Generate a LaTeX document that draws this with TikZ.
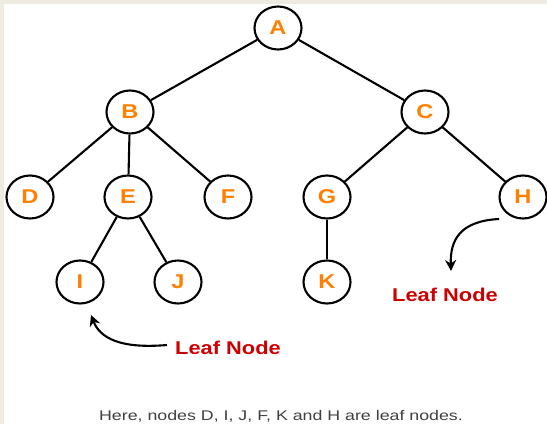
\documentclass[tikz,border=0pt]{standalone}
\usepackage{fontspec}
\setmainfont{Liberation Sans}
\newfontfamily\wideb[FakeStretch=1.18]{Liberation Sans Bold}
\newfontfamily\widec[FakeStretch=1.27]{Liberation Sans}
\usetikzlibrary{shapes.geometric,arrows.meta}
\definecolor{nodeorange}{HTML}{FF8000}
\definecolor{leafred}{HTML}{CC0000}
\definecolor{framebeige}{HTML}{EEECE1}
\definecolor{captiongray}{HTML}{404040}
\tikzset{
  treenode/.style={ellipse,draw=black,line width=2.1pt,minimum width=47pt,minimum height=43pt,inner sep=0pt,fill=white,
    font=\wideb\fontsize{20}{20}\selectfont,text=nodeorange},
  edge/.style={line width=2.1pt,black},
  leaflabel/.style={font=\wideb\fontsize{18.5}{18.5}\selectfont,text=leafred,inner sep=0pt},
  pointer/.style={line width=2.1pt,-{Stealth[length=11pt,width=11pt]}}
}
\begin{document}
\begin{tikzpicture}[x=1pt,y=-1pt]
\fill[framebeige] (0,0) rectangle (547,424);
\fill[white] (4,4) rectangle (547,424);
\useasboundingbox (0,0) rectangle (547,424);
\node[treenode] (nA) at (278,28) {A};
\node[treenode] (nB) at (130,112) {B};
\node[treenode] (nC) at (425,112) {C};
\node[treenode] (nD) at (30,197) {D};
\node[treenode] (nE) at (128,197) {E};
\node[treenode] (nF) at (228,197) {F};
\node[treenode] (nG) at (327,197) {G};
\node[treenode] (nH) at (523,197) {H};
\node[treenode] (nI) at (80,282) {I};
\node[treenode] (nJ) at (178,282) {J};
\node[treenode] (nK) at (327,282) {K};
\draw[edge] (nA) -- (nB);
\draw[edge] (nA) -- (nC);
\draw[edge] (nB) -- (nD);
\draw[edge] (nB) -- (nE);
\draw[edge] (nB) -- (nF);
\draw[edge] (nC) -- (nG);
\draw[edge] (nC) -- (nH);
\draw[edge] (nE) -- (nI);
\draw[edge] (nE) -- (nJ);
\draw[edge] (nG) -- (nK);
\node[leaflabel] (l1) at (445,295) {Leaf Node};
\node[leaflabel] (l2) at (228,348) {Leaf Node};
\coordinate (s1) at (499,219);
\coordinate (t1) at (451,271);
\coordinate (s2) at (167,345);
\coordinate (t2) at (91,315);
\draw[pointer] (s1) .. controls (460,221) and (450,240) .. (t1);
\draw[pointer] (s2) .. controls (120,349) and (100,338) .. (t2);
\node[font=\widec\fontsize{14}{14}\selectfont,text=captiongray,inner sep=0pt] (cap) at (281,416) {Here, nodes D, I, J, F, K and H are leaf nodes.};
\end{tikzpicture}
\end{document}
